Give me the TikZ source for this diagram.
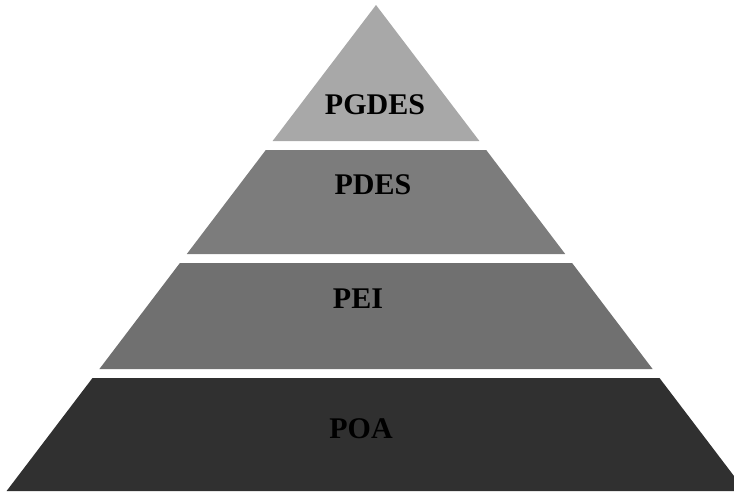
\documentclass[tikz,border=0pt]{standalone}
\usepackage{fontspec}
\setmainfont{Liberation Serif}
\begin{document}
\begin{tikzpicture}[x=1pt,y=-1pt,
  layerbox/.style={fill=#1,draw=none},
  lbl/.style={font=\fontsize{30}{30}\selectfont\bfseries, text=black, inner sep=0pt, anchor=center}]
\useasboundingbox (0,0) rectangle (734,491);
\clip (0,0) rectangle (734,491);
\definecolor{lone}{HTML}{A8A8A8}
\definecolor{ltwo}{HTML}{7C7C7C}
\definecolor{lthree}{HTML}{707070}
\definecolor{lfour}{HTML}{303030}
% layers
\fill[layerbox=lone]   (376,5) -- (479.4,141) -- (272.6,141) -- cycle;
\fill[layerbox=ltwo]   (265.8,150) -- (486.2,150) -- (565.2,254) -- (186.8,254) -- cycle;
\fill[layerbox=lthree] (179.9,263) -- (572.1,263) -- (652.6,369) -- (99.4,369) -- cycle;
\fill[layerbox=lfour]  (92.5,378) -- (659.5,378) -- (745.4,491) -- (6.6,491) -- cycle;
% labels
\node[lbl] (pgdes) at (375,105) {PGDES};
\node[lbl] (pdes)  at (373,185) {PDES};
\node[lbl] (pei)   at (358,299) {PEI};
\node[lbl] (poa)   at (361,429) {POA};
\end{tikzpicture}
\end{document}
